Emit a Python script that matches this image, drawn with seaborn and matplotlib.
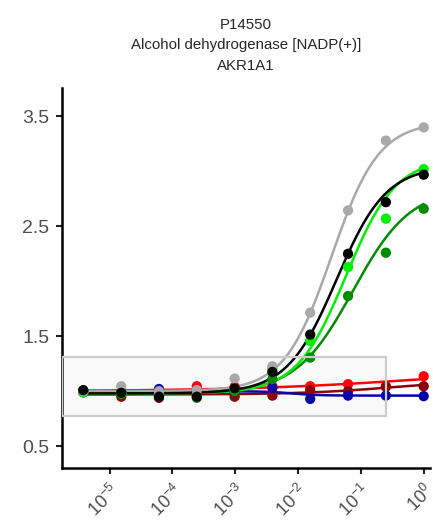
import numpy as np
import pandas as pd
import matplotlib
matplotlib.use("Agg")
import matplotlib.pyplot as plt
import matplotlib.ticker as mticker
from matplotlib.patches import Rectangle
import seaborn as sns

# dilution series (4-fold)
conc = [3.8e-6, 1.53e-5, 6.1e-5, 2.44e-4, 9.77e-4, 3.9e-3, 1.56e-2, 6.25e-2, 0.25, 1.0]

grey_vals = [1.00, 1.045, 1.00, 1.01, 1.115, 1.227, 1.715, 2.645, 3.28, 3.40]
black_vals = [1.01, 0.985, 0.95, 0.95, 1.025, 1.175, 1.515, 2.25, 2.72, 2.97]
lime_vals = [0.99, 0.98, 0.96, 0.96, 1.02, 1.20, 1.457, 2.13, 2.57, 3.02]
green_vals = [0.99, 0.98, 0.96, 0.94, 1.00, 1.11, 1.306, 1.866, 2.26, 2.66]
red_vals = [1.00, 0.98, 1.00, 1.045, 1.04, 1.045, 1.045, 1.064, 1.045, 1.136]
darkred_vals = [0.99, 0.95, 0.94, 0.97, 0.95, 0.96, 1.01, 1.00, 1.04, 1.045]
blue_vals = [1.00, 0.99, 1.02, 1.00, 1.00, 1.03, 0.93, 0.96, 0.96, 0.955]

series = ["grey", "black", "lime", "green", "red", "darkred", "blue"]
colors = ["#A9A9A9", "#000000", "#00EE00", "#008B00", "#FF0000", "#8B0000", "#0000A8"]
values = [grey_vals, black_vals, lime_vals, green_vals, red_vals, darkred_vals, blue_vals]

# log-logistic fit parameters (bottom, top, ec50, hill)
fit_params = {
    "grey": (1.00, 3.45, 0.034, 1.15),
    "black": (0.98, 3.05, 0.041, 1.10),
    "lime": (0.98, 3.12, 0.058, 1.10),
    "green": (0.98, 2.85, 0.075, 0.95),
    "red": (1.00, 1.22, 1.0, 0.30),
    "darkred": (0.97, 1.10, 0.30, 0.60),
    "blue": (1.00, 0.96, 0.008, 2.0),
}

rows = []
for name, vals in zip(series, values):
    for c, v in zip(conc, vals):
        rows.append({"series": name, "conc": c, "value": v})
df = pd.DataFrame(rows)

xgrid = np.logspace(np.log10(conc[0]), 0, 300)
curve_rows = []
for name in series:
    b, t, ec, h = fit_params[name]
    yfit = b + (t - b) / (1 + (ec / xgrid) ** h)
    for xv, yv in zip(xgrid, yfit):
        curve_rows.append({"series": name, "conc": xv, "value": yv})
curves = pd.DataFrame(curve_rows)

sns.set_style("white")
plt.rcParams["font.family"] = ["Liberation Sans", "DejaVu Sans"]

fig = plt.figure(figsize=(4.33, 5.26), dpi=100)
ax = fig.add_axes([0.143, 0.110, 0.85, 0.723])

palette = dict(zip(series, colors))
order = ["red", "darkred", "blue", "green", "lime", "grey", "black"]
for name in order:
    sub_c = curves[curves["series"] == name]
    sub_p = df[df["series"] == name]
    sns.lineplot(data=sub_c, x="conc", y="value", color=palette[name], lw=1.8, ax=ax, legend=False)
    sns.scatterplot(data=sub_p, x="conc", y="value", color=palette[name], s=55, edgecolor="none", ax=ax, legend=False, zorder=3)

ax.set_xscale("log")
ax.set_xlim(10 ** -5.76, 10 ** 0.1)
ax.set_ylim(0.3, 3.76)

# highlighted baseline region
rect = Rectangle((10 ** -5.76, 0.775), 0.25 - 10 ** -5.76, 0.535,
                 facecolor="#999999", alpha=0.05, edgecolor="none", zorder=5)
ax.add_patch(rect)
rect_edge = Rectangle((10 ** -5.76, 0.775), 0.25 - 10 ** -5.76, 0.535,
                      facecolor="none", edgecolor="#CCCCCC", lw=1.6, zorder=5)
ax.add_patch(rect_edge)

ax.set_xticks([1e-5, 1e-4, 1e-3, 1e-2, 1e-1, 1e0])
ax.xaxis.set_major_formatter(mticker.LogFormatterMathtext())
ax.xaxis.set_minor_locator(mticker.NullLocator())
ax.set_yticks([0.5, 1.5, 2.5, 3.5])
ax.set_yticklabels(["0.5", "1.5", "2.5", "3.5"])

ax.tick_params(axis="both", which="major", length=4, width=1.5, color="#222222",
               labelcolor="#4D4D4D", bottom=True, left=True)
ax.tick_params(axis="y", labelsize=14, pad=5)
ax.tick_params(axis="x", labelsize=13, pad=5)
plt.setp(ax.get_xticklabels(), rotation=45, ha="right", rotation_mode="anchor")

for side in ["top", "right"]:
    ax.spines[side].set_visible(False)
for side in ["left", "bottom"]:
    ax.spines[side].set_linewidth(1.8)
    ax.spines[side].set_color("black")

ax.set_xlabel("")
ax.set_ylabel("")
ax.set_title("P14550\nAlcohol dehydrogenase [NADP(+)]\nAKR1A1", fontsize=10.8, pad=13, linespacing=1.6)

fig.savefig("out.png", dpi=100)
